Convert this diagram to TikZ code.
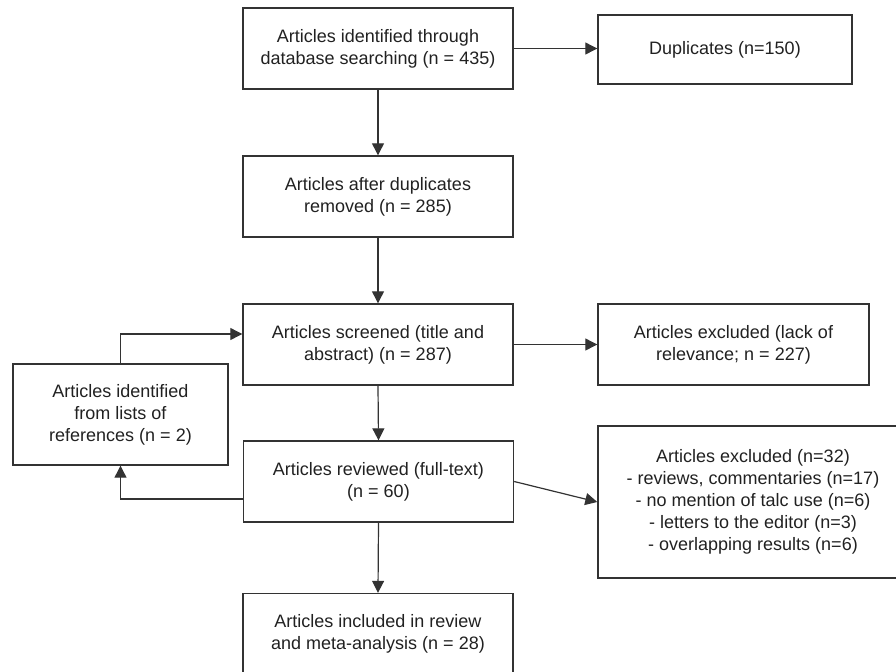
\documentclass[tikz,border=0pt]{standalone}
\usepackage{fontspec}
\setmainfont{Liberation Sans}
\usetikzlibrary{arrows.meta}
\usetikzlibrary{calc}
\definecolor{boxline}{gray}{.2}
\definecolor{boxtext}{gray}{.13}
\newcommand{\widthstage}{135pt}
\newcommand{\heightstage}{40.5pt}
\tikzset{
    common/.style={draw=boxline, rectangle, line width=0.7pt, align=center, text=boxtext,
        inner sep=0pt, font=\fontsize{9}{11}\selectfont},
    stage/.style={common, minimum width=\widthstage, minimum height=\heightstage},
    side/.style={common, minimum width=135.5pt, minimum height=\heightstage},
    flow/.style={-{Triangle[length=6pt, width=6pt]}, line width=0.6pt, boxline}
}

\begin{document}
\begin{tikzpicture}[x=0.5pt, y=-0.5pt]
    \useasboundingbox (0,0) rectangle (896,671);

    % main column
    \node[stage] (identified) at (378,48.5) {Articles identified through\\database searching (n = 435)};
    \node[stage] (afterdup) at (378,196.5) {Articles after duplicates\\removed (n = 285)};
    \node[stage] (screened) at (378,344.5) {Articles screened (title and\\abstract) (n = 287)};
    \node[stage] (reviewed) at (378.5,481.5) {Articles reviewed (full-text)\\(n = 60)};
    \node[stage] (included) at (378,634) {Articles included in review\\and meta-analysis (n = 28)};

    % side boxes
    \node[side, minimum width=127pt, minimum height=34.5pt] (duplicates) at (725,49.5) {Duplicates (n=150)};
    \node[side] (excluded-a) at (733.5,344.5) {Articles excluded (lack of\\relevance; n = 227)};
    \node[side, minimum width=155pt, minimum height=76pt] (excluded-b) at (753,502)
        {Articles excluded (n=32)\\- reviews, commentaries (n=17)\\- no mention of talc use (n=6)\\- letters to the editor (n=3)\\- overlapping results (n=6)};
    \node[side, minimum width=107.5pt, minimum height=50.5pt] (fromlists) at (120.5,414.5)
        {Articles identified\\from lists of\\references (n = 2)};

    \draw[flow] (identified.south) -- (afterdup.north);
    \draw[flow] (afterdup.south) -- (screened.north);
    \draw[flow] (screened.south) -- (reviewed.north);
    \draw[flow] (reviewed.south) -- (included.north);
    \draw[flow] (identified.east) -- (identified.east -| duplicates.west);
    \draw[flow] (screened.east) -- (excluded-a.west);
    \draw[flow] (reviewed.east) -- (excluded-b.west);
    \draw[flow] (fromlists.north) |- ($(screened.west)+(0,-10.5)$);
    \draw[flow] ($(reviewed.west)+(0,17.5)$) -| (fromlists.south);
\end{tikzpicture}
\end{document}
